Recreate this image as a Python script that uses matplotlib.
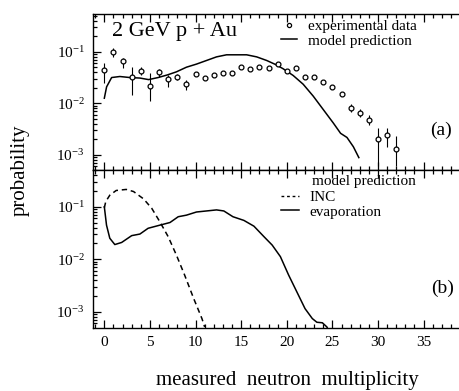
import numpy as np
import matplotlib
matplotlib.use("Agg")
import matplotlib.pyplot as plt
from matplotlib.ticker import LogLocator, MultipleLocator, NullFormatter
from matplotlib.lines import Line2D

plt.rcParams['font.family'] = ['Liberation Serif', 'DejaVu Serif']
plt.rcParams['mathtext.fontset'] = 'stix'

# (a) experimental data: multiplicity, probability, lower / upper error bar ends
exp_n = list(range(0, 33))
exp_p = [0.045, 0.098, 0.065, 0.032, 0.043, 0.022, 0.041, 0.029, 0.033, 0.024,
         0.037, 0.031, 0.036, 0.039, 0.038, 0.050, 0.046, 0.050, 0.049, 0.058,
         0.043, 0.048, 0.033, 0.032, 0.026, 0.021, 0.015, 0.0083, 0.0065, 0.0048,
         0.0020, 0.0024, 0.0013]
exp_lo = [0.0245, 0.079, 0.048, 0.0145, 0.035, 0.0112, 0.033, 0.0204, 0.028, 0.018,
          0.037, 0.031, 0.036, 0.039, 0.038, 0.050, 0.046, 0.050, 0.049, 0.058,
          0.043, 0.048, 0.033, 0.032, 0.026, 0.021, 0.015, 0.0069, 0.0054, 0.0038,
          0.0006, 0.00145, 0.0006]
exp_hi = [0.060, 0.117, 0.076, 0.051, 0.050, 0.039, 0.047, 0.035, 0.037, 0.028,
          0.037, 0.031, 0.036, 0.039, 0.038, 0.050, 0.046, 0.050, 0.049, 0.058,
          0.043, 0.048, 0.033, 0.032, 0.026, 0.021, 0.015, 0.0098, 0.0078, 0.0060,
          0.0033, 0.0033, 0.0023]

# (a) model prediction (log10 probability)
model_n = [0.0, 0.25, 0.8, 1.7, 2.8, 3.9, 4.85, 5.9, 6.9, 7.9, 9.0, 10.1, 11.2, 12.3,
           13.4, 14.5, 15.6, 16.7, 17.8, 18.8, 19.6, 20.7, 21.8, 22.9, 24.0, 25.1,
           25.9, 26.6, 27.3, 27.9]
model_log = [-1.90, -1.68, -1.50, -1.48, -1.50, -1.51, -1.54, -1.50, -1.45, -1.39,
             -1.30, -1.24, -1.17, -1.10, -1.06, -1.06, -1.06, -1.10, -1.17, -1.25,
             -1.33, -1.46, -1.63, -1.86, -2.12, -2.38, -2.58, -2.66, -2.84, -3.05]

# (b) INC component (log10 probability)
inc_n = [0.0, 0.16, 0.6, 1.3, 2.4, 3.2, 4.3, 5.2, 6.1, 7.0, 7.9, 8.8, 9.8, 10.7, 11.0]
inc_log = [-1.02, -0.90, -0.78, -0.69, -0.67, -0.71, -0.85, -1.03, -1.29, -1.57,
           -1.92, -2.30, -2.75, -3.13, -3.29]

# (b) evaporation component (log10 probability)
evap_n = [0.0, 0.24, 0.6, 1.15, 1.9, 3.0, 3.9, 4.8, 6.1, 7.2, 8.1, 9.0, 10.1, 11.2,
          12.3, 13.1, 14.1, 15.3, 16.4, 17.5, 18.4, 19.3, 20.2, 21.1, 22.0, 22.8,
          23.3, 23.9, 24.4, 24.7]
evap_log = [-1.00, -1.35, -1.60, -1.72, -1.68, -1.55, -1.52, -1.41, -1.35, -1.30,
            -1.19, -1.16, -1.10, -1.08, -1.06, -1.08, -1.19, -1.26, -1.37, -1.57,
            -1.73, -1.95, -2.30, -2.62, -2.94, -3.13, -3.20, -3.21, -3.29, -3.40]

fig = plt.figure(figsize=(4.6, 3.91), dpi=100)
ax1 = fig.add_axes([0.2022, 0.5652, 0.80, 0.399])
ax2 = fig.add_axes([0.2022, 0.1624, 0.80, 0.4028])

exp_p = np.array(exp_p)
yerr = [exp_p - np.array(exp_lo), np.array(exp_hi) - exp_p]
ax1.errorbar(exp_n, exp_p, yerr=yerr, fmt='o', ms=3.5, mfc='white', mec='black',
             mew=0.9, ecolor='black', elinewidth=0.8, capsize=0)
ax1.plot(model_n, 10 ** np.array(model_log), color='black', lw=1.1)

ax2.plot(inc_n, 10 ** np.array(inc_log), color='black', lw=1.1, ls=(0, (3.5, 2.5)))
ax2.plot(evap_n, 10 ** np.array(evap_log), color='black', lw=1.1)

for ax, ylim in ((ax1, (10 ** -3.29, 10 ** -0.27)), (ax2, (10 ** -3.30, 10 ** -0.30))):
    ax.set_yscale('log')
    ax.set_xlim(-1.24, 39.1)
    ax.set_ylim(*ylim)
    ax.yaxis.set_major_locator(LogLocator(base=10, numticks=10))
    ax.yaxis.set_minor_locator(LogLocator(base=10, subs=np.arange(2, 10), numticks=10))
    ax.yaxis.set_minor_formatter(NullFormatter())
    ax.xaxis.set_major_locator(MultipleLocator(5))
    ax.xaxis.set_minor_locator(MultipleLocator(1))
    ax.tick_params(which='both', direction='in', top=True, right=False, labelsize=11,
                   width=0.9, colors='black')
    ax.tick_params(which='major', length=6, pad=6)
    ax.tick_params(which='minor', length=3)
    ax.spines['right'].set_visible(False)
    for s in ('left', 'top', 'bottom'):
        ax.spines[s].set_linewidth(1.0)

ax1.tick_params(axis='x', labelbottom=False)

ax1.text(0.051, 0.886, '2 GeV p + Au', transform=ax1.transAxes, fontsize=16,
         va='center', ha='left')
ax1.text(0.945, 0.256, '(a)', transform=ax1.transAxes, fontsize=14,
         va='center', ha='center')
ax2.text(0.95, 0.25, '(b)', transform=ax2.transAxes, fontsize=14,
         va='center', ha='center')

h_exp = Line2D([], [], ls='none', marker='o', ms=3, mfc='white', mec='black', mew=0.9)
h_mod = Line2D([], [], color='black', lw=1.1)
ax1.legend([h_exp, h_mod], ['experimental data', 'model prediction'],
           loc='upper left', bbox_to_anchor=(0.51, 0.965), frameon=False,
           fontsize=11, handlelength=1.1, handletextpad=0.7, labelspacing=0.05,
           borderpad=0, borderaxespad=0)

ax2.text(0.595, 0.925, 'model prediction', transform=ax2.transAxes, fontsize=11,
         va='center', ha='left')
h_inc = Line2D([], [], color='black', lw=1.0, ls=(0, (2, 2)))
h_ev = Line2D([], [], color='black', lw=1.1)
ax2.legend([h_inc, h_ev], ['INC', 'evaporation'], loc='upper left',
           bbox_to_anchor=(0.51, 0.87), frameon=False, fontsize=11,
           handlelength=1.2, handletextpad=0.7, labelspacing=0.05,
           borderpad=0, borderaxespad=0)

fig.text(0.045, 0.565, 'probability', rotation=90, fontsize=15, va='center', ha='center')
fig.text(0.624, 0.028, 'measured  neutron  multiplicity', fontsize=15,
         va='center', ha='center')

fig.savefig('out.png', dpi=100)
